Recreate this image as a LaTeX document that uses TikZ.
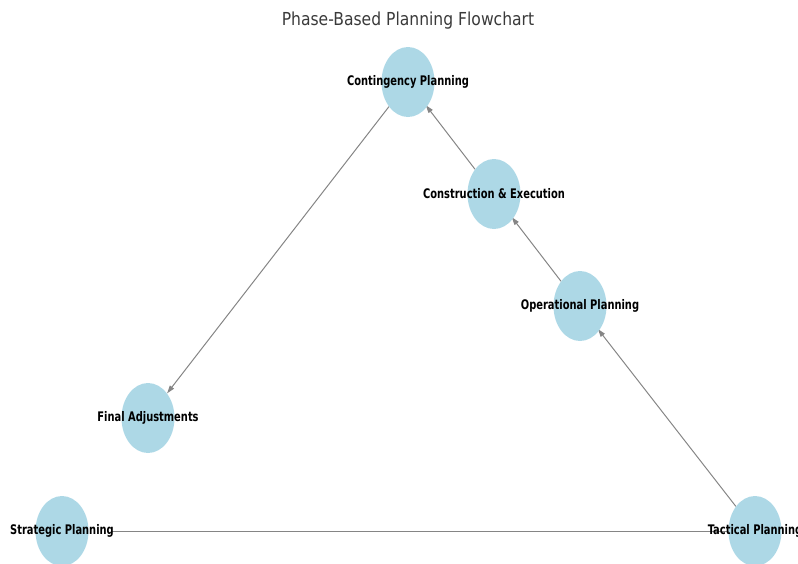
\documentclass[tikz,border=0pt]{standalone}
\usepackage{fontspec}
\setmainfont{DejaVu Sans}
\usetikzlibrary{arrows.meta,shapes.geometric}
\pgfdeclarelayer{bg}
\pgfsetlayers{bg,main}
\definecolor{nodeblue}{HTML}{ADD8E6}
\definecolor{edgegray}{HTML}{858585}
\definecolor{titlegray}{HTML}{3A3A3A}
\newcommand{\lbltext}[1]{\scalebox{0.75}[1]{\fontsize{13.2}{15}\selectfont\bfseries #1}}
\tikzset{
  blob/.style={ellipse, fill=nodeblue, minimum width=53pt, minimum height=70pt, inner sep=0pt},
  lbl/.style={inner sep=0pt, text=black},
  flow/.style={draw=edgegray, line width=1pt, -{Triangle[length=8pt,width=5pt]}},
}
\begin{document}
\begin{tikzpicture}[x=1pt,y=-1pt]
\useasboundingbox (0,0) rectangle (798,563);
\node[text=titlegray, inner sep=0pt] (title) at (408,21) {\scalebox{0.87}[1]{\fontsize{17.9}{20}\selectfont Phase-Based Planning Flowchart}};
% ellipses
\node[blob] (cp) at (408,82) {};
\node[blob] (ce) at (494,194) {};
\node[blob] (op) at (580,306) {};
\node[blob] (fa) at (148,418) {};
\node[blob] (sp) at (62,531) {};
\node[blob] (tp) at (755,531) {};
% labels
\node[lbl] (cpl) at (cp) {\lbltext{Contingency Planning}};
\node[lbl] (cel) at (ce) {\lbltext{Construction \& Execution}};
\node[lbl] (opl) at (op) {\lbltext{Operational Planning}};
\node[lbl] (fal) at (fa) {\lbltext{Final Adjustments}};
\node[lbl] (spl) at (sp) {\lbltext{Strategic Planning}};
\node[lbl] (tpl) at (tp) {\lbltext{Tactical Planning}};
% edges
\begin{pgfonlayer}{bg}
\draw[flow, shorten <=22pt, shorten >=-12pt] (sp) -- (tp);
\draw[flow, shorten >=-2pt] (tp) -- (op);
\draw[flow, shorten >=-2pt] (op) -- (ce);
\draw[flow, shorten >=-2pt] (ce) -- (cp);
\draw[flow] (cp) -- (fa);
\end{pgfonlayer}
\end{tikzpicture}
\end{document}
